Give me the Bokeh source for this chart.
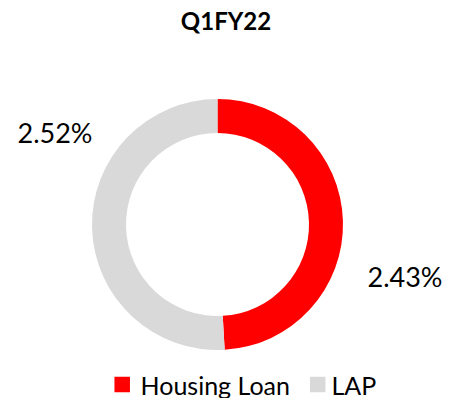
import math
from bokeh.plotting import figure
from bokeh.models import Range1d
from bokeh.core.properties import value
from bokeh.embed import file_html
from bokeh.resources import INLINE

# ---- data ----
title = "Q1FY22"
categories = ["Housing Loan", "LAP"]
values = [2.43, 2.52]
value_labels = ["2.43%", "2.52%"]
colors = ["#FF0000", "#D9D9D9"]

# ---- layout (pixels) ----
W, H = 448, 398
FONT = "Lato"
cx, cy = 217, 174
r_in, r_out = 91.5, 125.5

p = figure(width=W, height=H, output_backend="svg", toolbar_location=None,
           x_range=Range1d(0, W), y_range=Range1d(0, H), min_border=0)
p.axis.visible = False
p.grid.visible = False
p.outline_line_color = None
p.background_fill_color = "white"
p.border_fill_color = "white"

total = sum(values)
start = math.pi / 2
starts, ends = [], []
for v in values:
    end = start - v / total * 2 * math.pi
    starts.append(start)
    ends.append(end)
    start = end

p.annular_wedge(x=[cx] * len(values), y=[cy] * len(values), inner_radius=r_in,
                outer_radius=r_out, start_angle=starts, end_angle=ends,
                direction="clock", fill_color=colors, line_color=None)

# value labels (left-aligned, vertically centred anchor positions)
label_pos = {"Housing Loan": (367, 122), "LAP": (17, 266)}
lx = [label_pos[c][0] for c in categories]
ly = [label_pos[c][1] for c in categories]
p.text(x=lx, y=ly, text=value_labels, text_font=value(FONT),
       text_font_size="27px", text_color="black", text_align="left",
       text_baseline="middle")

# title
p.text(x=[225.5], y=[378], text=[title], text_font=value(FONT),
       text_font_size="24px", text_font_style="bold", text_color="black",
       text_align="center", text_baseline="middle")

# legend
leg_sq_x = [121.7, 317.2]
leg_txt_x = [140, 331]
leg_mid = 14
p.rect(x=leg_sq_x, y=[leg_mid] * 2, width=15.5, height=15.5,
       fill_color=colors, line_color=None)
p.text(x=leg_txt_x, y=[leg_mid] * 2, text=categories, text_font=value(FONT),
       text_font_size="25px", text_color="black", text_align="left",
       text_baseline="middle")

open("out.html", "w").write(file_html(p, INLINE))
